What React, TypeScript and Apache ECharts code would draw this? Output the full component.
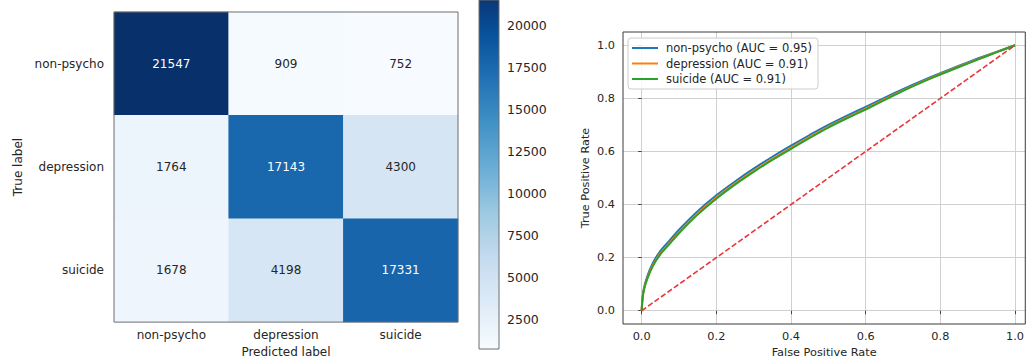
import React, { useEffect, useRef } from "react";
import * as echarts from "echarts";

const classes = ["non-psycho", "depression", "suicide"];
const confusion = [
  [21547, 909, 752],
  [1764, 17143, 4300],
  [1678, 4198, 17331],
];
const colorbarTicks = [2500, 5000, 7500, 10000, 12500, 15000, 17500, 20000];
const blues = ["#f7fbff", "#deebf7", "#c6dbef", "#9ecae1", "#6baed6", "#4292c6", "#2171b5", "#08519c", "#08306b"];

const rocTicks = [0, 0.2, 0.4, 0.6, 0.8, 1.0];
const rocFpr = [0, 0.002, 0.006, 0.015, 0.03, 0.05, 0.075, 0.1, 0.15, 0.2, 0.25, 0.3, 0.35, 0.4, 0.45, 0.5, 0.55, 0.6, 0.65, 0.7, 0.75, 0.8, 0.85, 0.9, 0.95, 1.0];
const tprNonPsycho = [0, 0.045, 0.085, 0.13, 0.18, 0.225, 0.265, 0.305, 0.375, 0.435, 0.487, 0.535, 0.58, 0.622, 0.662, 0.7, 0.735, 0.768, 0.802, 0.835, 0.866, 0.895, 0.923, 0.95, 0.975, 1.0];
const tprDepression = [0, 0.042, 0.08, 0.123, 0.172, 0.216, 0.256, 0.296, 0.366, 0.426, 0.479, 0.527, 0.572, 0.614, 0.655, 0.693, 0.728, 0.761, 0.796, 0.83, 0.862, 0.892, 0.92, 0.947, 0.974, 1.0];
const tprSuicide = [0, 0.04, 0.078, 0.12, 0.168, 0.212, 0.252, 0.292, 0.362, 0.422, 0.475, 0.523, 0.568, 0.61, 0.651, 0.69, 0.725, 0.758, 0.793, 0.828, 0.86, 0.89, 0.918, 0.946, 0.973, 1.0];
const rocNames = ["non-psycho (AUC = 0.95)", "depression (AUC = 0.91)", "suicide (AUC = 0.91)"];
const rocColors = ["#1f77b4", "#ff7f0e", "#2ca02c"];
const chance = [[0, 0], [1, 1]];

const FONT = "DejaVu Sans";

export default function App() {
  const ref = useRef<HTMLDivElement>(null);
  useEffect(() => {
    if (!ref.current) return;
    const chart = echarts.init(ref.current, undefined, { renderer: "svg" });
    const flat = confusion.flat();
    const vmin = Math.min(...flat);
    const vmax = Math.max(...flat);
    const thresh = (vmin + vmax) / 2;
    const heatData: any[] = [];
    confusion.forEach((row, r) =>
      row.forEach((v, c) =>
        heatData.push({
          value: [c, r, v],
          label: { color: v > thresh ? "#ffffff" : "#262626" },
        })
      )
    );
    const tprs = [tprNonPsycho, tprDepression, tprSuicide];
    const tickLabel = { fontFamily: FONT, color: "#262626" };

    chart.setOption({
      animation: false,
      backgroundColor: "#ffffff",
      textStyle: { fontFamily: FONT },
      grid: [
        { left: 114, top: 12, width: 344, height: 316, show: true, z: 10, backgroundColor: "transparent", borderColor: "#6f6f6f", borderWidth: 1 },
        { left: 479, top: -11, width: 20, height: 360, show: true, z: 10, backgroundColor: "transparent", borderColor: "#6f6f6f", borderWidth: 1 },
        { left: 623, top: 32, width: 403, height: 292, show: true, z: 10, backgroundColor: "transparent", borderColor: "#3a3a3a", borderWidth: 1 },
      ],
      xAxis: [
        {
          gridIndex: 0, type: "category", data: classes, position: "bottom",
          axisLine: { show: false },
          axisTick: { alignWithLabel: true, length: 3.5, lineStyle: { color: "#444" } },
          axisLabel: { ...tickLabel, fontSize: 12, margin: 7 },
          splitLine: { show: false },
          name: "Predicted label", nameLocation: "middle", nameGap: 22,
          nameTextStyle: { fontFamily: FONT, fontSize: 12, color: "#262626" },
        },
        { gridIndex: 1, type: "value", show: false },
        {
          gridIndex: 2, type: "value", min: -0.05, max: 1.0275,
          axisLine: { show: false },
          axisTick: { customValues: rocTicks, length: 3.5, lineStyle: { color: "#444" } },
          axisLabel: { ...tickLabel, fontSize: 11.3, margin: 7, customValues: rocTicks, formatter: (v: number) => v.toFixed(1) },
          splitLine: { show: true, lineStyle: { color: "#d0d0d0", width: 1 } },
          name: "False Positive Rate", nameLocation: "middle", nameGap: 21,
          nameTextStyle: { fontFamily: FONT, fontSize: 11.3, color: "#262626" },
        },
      ],
      yAxis: [
        {
          gridIndex: 0, type: "category", data: classes, inverse: true,
          axisLine: { show: false },
          axisTick: { alignWithLabel: true, length: 3.5, lineStyle: { color: "#444" } },
          axisLabel: { ...tickLabel, fontSize: 12, margin: 10 },
          splitLine: { show: false },
          name: "True label", nameLocation: "middle", nameGap: 90, nameRotate: 90,
          nameTextStyle: { fontFamily: FONT, fontSize: 12, color: "#262626" },
        },
        {
          gridIndex: 1, type: "value", min: vmin, max: vmax, position: "right",
          axisLine: { show: false },
          axisTick: { customValues: colorbarTicks, length: 3.5, lineStyle: { color: "#444" } },
          axisLabel: { ...tickLabel, fontSize: 12.5, margin: 8, customValues: colorbarTicks, formatter: (v: number) => String(v) },
          splitLine: { show: false },
        },
        {
          gridIndex: 2, type: "value", min: -0.05, max: 1.05,
          axisLine: { show: false },
          axisTick: { customValues: rocTicks, length: 3.5, lineStyle: { color: "#444" } },
          axisLabel: { ...tickLabel, fontSize: 11.3, margin: 8, customValues: rocTicks, formatter: (v: number) => v.toFixed(1) },
          splitLine: { show: true, lineStyle: { color: "#d0d0d0", width: 1 } },
          name: "True Positive Rate", nameLocation: "middle", nameGap: 32,
          nameTextStyle: { fontFamily: FONT, fontSize: 11.3, color: "#262626" },
        },
      ],
      visualMap: {
        type: "continuous", seriesIndex: 0, min: vmin, max: vmax,
        orient: "vertical", left: 479, top: -11, itemWidth: 20, itemHeight: 360,
        padding: 0, calculable: false, hoverLink: false, z: 1,
        inRange: { color: blues },
      },
      legend: {
        data: rocNames, orient: "vertical", left: 628, top: 38,
        padding: [4, 6, 4, 4], itemGap: 3.5, itemWidth: 26, itemHeight: 2,
        icon: "rect",
        backgroundColor: "rgba(255,255,255,0.85)", borderColor: "#cccccc", borderWidth: 1, borderRadius: 3,
        textStyle: { fontFamily: FONT, fontSize: 11.5, color: "#262626", padding: [0, 0, 0, 3] },
        z: 20,
      },
      series: [
        {
          type: "heatmap", xAxisIndex: 0, yAxisIndex: 0, data: heatData,
          label: { show: true, fontFamily: FONT, fontSize: 12 },
          itemStyle: { borderWidth: 0 },
        },
        ...rocNames.map((name, i) => ({
          type: "line", name, xAxisIndex: 2, yAxisIndex: 2,
          data: rocFpr.map((f, k) => [f, tprs[i][k]]),
          symbol: "none", smooth: 0.2,
          lineStyle: { color: rocColors[i], width: 2 },
          itemStyle: { color: rocColors[i] },
          z: 3 + i,
        })),
        {
          type: "line", name: "chance", xAxisIndex: 2, yAxisIndex: 2, data: chance,
          symbol: "none", lineStyle: { color: "#e8363a", width: 1.6, type: [5.5, 2.4] },
          z: 6,
        },
      ],
    });
    return () => chart.dispose();
  }, []);
  return <div ref={ref} style={{ position: "fixed", left: 0, top: 0, width: 1027, height: 363 }} />;
}
